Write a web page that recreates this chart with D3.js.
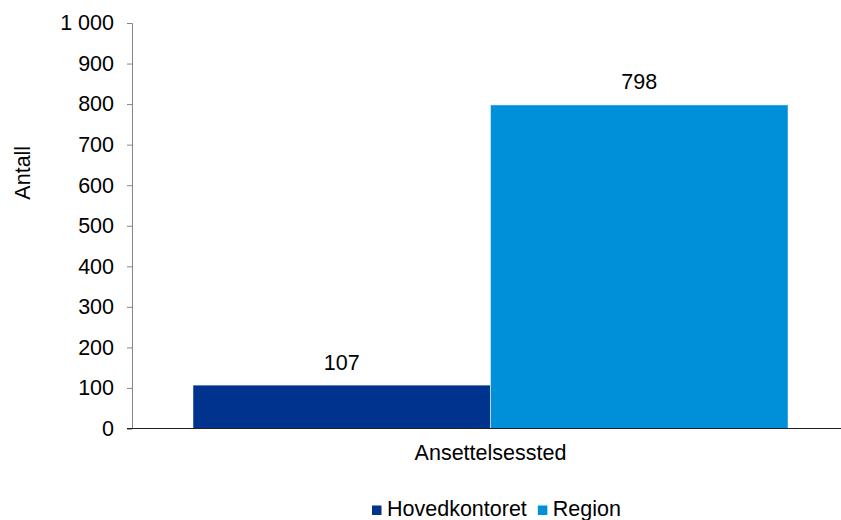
<!DOCTYPE html>
<html>
<head>
<meta charset="utf-8">
<script src="https://cdn.jsdelivr.net/npm/d3@7"></script>
<style>
  html, body { margin: 0; padding: 0; background: #fff; }
  svg { display: block; font-family: "Liberation Sans", Arial, sans-serif; }
</style>
</head>
<body>
<svg id="chart" width="841" height="520"></svg>
<script>
// Ansatte etter ansettelsessted
const categories = ["Ansettelsessted"];
const seriesNames = ["Hovedkontoret", "Region"];
const seriesValues = [107, 798];
const seriesColors = ["#00338e", "#0090da"];
const yTicks = [0, 100, 200, 300, 400, 500, 600, 700, 800, 900, 1000];
const yLabel = "Antall";

const FS = 21.5;
const svg = d3.select("#chart");
const margin = { left: 132, right: -8, top: 23, bottom: 91.5 };
const W = 841, H = 520;
const plotBottom = H - margin.bottom;

const y = d3.scaleLinear().domain([0, 1000]).range([plotBottom, margin.top]);
const x = d3.scaleBand().domain(categories).range([margin.left, W - margin.right]).paddingOuter(0.1025).paddingInner(0);
const xs = d3.scaleBand().domain(seriesNames).range([0, x.bandwidth()]).padding(0);

const fmt = v => d3.format(",")(v).replace(/,/g, "\u00a0");

// bars
const g = svg.append("g");
seriesNames.forEach((s, i) => {
  const cat = categories[0];
  const bx = x(cat) + xs(s);
  g.append("rect")
    .attr("x", bx)
    .attr("y", y(seriesValues[i]))
    .attr("width", xs.bandwidth())
    .attr("height", y(0) - y(seriesValues[i]))
    .attr("fill", seriesColors[i])
    .attr("stroke", "#ffffff")
    .attr("stroke-opacity", 0.5)
    .attr("stroke-width", 1);
  g.append("text")
    .attr("x", bx + xs.bandwidth() / 2)
    .attr("y", y(seriesValues[i]) - 15.5)
    .attr("text-anchor", "middle")
    .attr("font-size", FS)
    .attr("fill", "#000")
    .text(fmt(seriesValues[i]));
});

// y axis
const yAxis = d3.axisLeft(y).tickValues(yTicks).tickSize(5).tickPadding(13).tickFormat(fmt);
const ya = svg.append("g").attr("transform", `translate(${margin.left},0)`).call(yAxis);
ya.select(".domain").attr("stroke", "#868686");
ya.selectAll(".tick line").attr("stroke", "#868686");
ya.selectAll(".tick text").attr("font-size", FS).attr("fill", "#000").attr("font-family", "Liberation Sans, Arial, sans-serif");

// x axis
svg.append("line")
  .attr("x1", margin.left - 5).attr("x2", W)
  .attr("y1", y(0)).attr("y2", y(0))
  .attr("stroke", "#222").attr("stroke-width", 1.2);
svg.append("text")
  .attr("x", x(categories[0]) + x.bandwidth() / 2)
  .attr("y", 460)
  .attr("text-anchor", "middle")
  .attr("font-size", FS)
  .text(categories[0]);

// y label
svg.append("text")
  .attr("transform", `translate(30,${(margin.top + plotBottom) / 2 - 53}) rotate(-90)`)
  .attr("text-anchor", "middle")
  .attr("font-size", FS)
  .text(yLabel);

// legend
const legend = svg.append("g").attr("transform", "translate(372,516)");
let lx = 0;
seriesNames.forEach((s, i) => {
  legend.append("rect").attr("x", lx).attr("y", -10.5).attr("width", 9.5).attr("height", 9.5).attr("fill", seriesColors[i]);
  const t = legend.append("text").attr("x", lx + 15).attr("y", 0).attr("font-size", FS).text(s);
  lx += 15 + t.node().getComputedTextLength() + 11;
});
</script>
</body>
</html>
